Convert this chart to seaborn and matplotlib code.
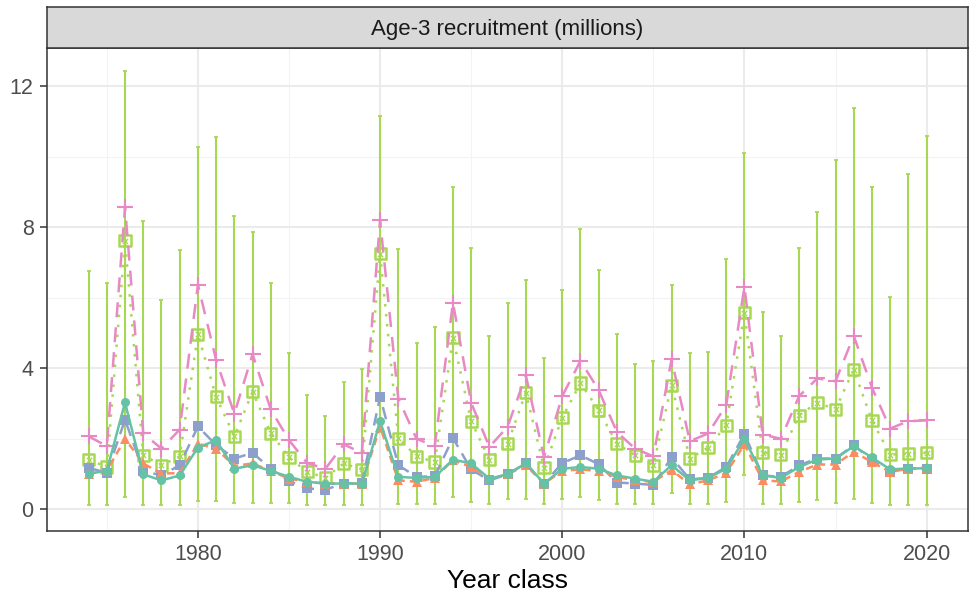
import matplotlib
matplotlib.use("Agg")
import matplotlib.pyplot as plt
import seaborn as sns
import numpy as np
import pandas as pd

years = list(range(1974, 2021))

teal = [1.01, 1.09, 3.03, 0.99, 0.82, 0.96, 1.75, 1.96, 1.15, 1.25, 1.09, 0.92, 0.78, 0.73, 0.73, 0.73,
        2.5, 0.92, 0.89, 0.92, 1.41, 1.3, 0.87, 0.99, 1.31, 0.73, 1.15, 1.2, 1.15, 0.96, 0.87, 0.78,
        1.25, 0.82, 0.89, 1.15, 2.0, 0.96, 0.89, 1.2, 1.41, 1.44, 1.79, 1.47, 1.13, 1.16, 1.16]
orange = [1.01, 1.09, 2.0, 1.3, 1.01, 1.03, 1.86, 1.72, 1.23, 1.3, 1.09, 0.87, 0.78, 0.73, 0.73, 0.73,
          2.34, 0.82, 0.78, 0.89, 1.39, 1.2, 0.87, 0.99, 1.25, 0.73, 1.09, 1.13, 1.09, 0.92, 0.82, 0.78,
          1.11, 0.71, 0.82, 1.03, 1.84, 0.82, 0.79, 1.06, 1.27, 1.27, 1.63, 1.34, 1.06, 1.15, 1.18]
blue = [1.18, 1.03, 2.54, 1.09, 0.96, 1.25, 2.35, 1.82, 1.44, 1.6, 1.15, 0.8, 0.59, 0.56, 0.73, 0.75,
        3.19, 1.25, 0.92, 0.94, 2.02, 1.13, 0.82, 0.99, 1.3, 0.73, 1.31, 1.53, 1.28, 0.76, 0.73, 0.69,
        1.47, 0.85, 0.89, 1.2, 2.13, 0.96, 0.92, 1.25, 1.44, 1.44, 1.82, 1.39, 1.06, 1.15, 1.15]
green = [1.41, 1.2, 7.61, 1.53, 1.25, 1.5, 4.96, 3.19, 2.07, 3.33, 2.16, 1.47, 1.06, 0.9, 1.3, 1.13,
         7.25, 2.02, 1.5, 1.34, 4.87, 2.5, 1.41, 1.86, 3.31, 1.18, 2.6, 3.58, 2.81, 1.86, 1.53, 1.25,
         3.52, 1.44, 1.75, 2.38, 5.57, 1.61, 1.55, 2.67, 3.02, 2.84, 3.96, 2.52, 1.55, 1.58, 1.6]
pink = [2.07, 1.79, 8.58, 2.15, 1.72, 2.26, 6.37, 4.23, 2.71, 4.4, 2.83, 1.96, 1.31, 1.15, 1.84, 1.6,
        8.2, 3.14, 2.0, 1.79, 5.86, 3.02, 1.77, 2.34, 3.8, 1.48, 3.21, 4.21, 3.38, 2.19, 1.72, 1.5,
        4.25, 1.93, 2.15, 2.95, 6.31, 2.12, 2.0, 3.21, 3.71, 3.63, 4.92, 3.45, 2.29, 2.5, 2.52]
green_upper = [6.76, 6.42, 12.43, 8.17, 5.93, 7.35, 10.28, 10.56, 8.32, 7.85, 6.43, 4.42, 3.23, 2.64, 3.61, 3.97,
               11.16, 7.39, 4.72, 5.17, 9.13, 7.42, 4.91, 5.86, 6.5, 4.3, 6.23, 7.94, 6.78, 4.96, 4.13, 4.2,
               6.37, 4.44, 4.46, 7.09, 10.11, 5.58, 4.92, 7.41, 8.42, 9.9, 11.39, 9.13, 6.02, 9.52, 10.58]
green_lower = [0.11, 0.11, 0.35, 0.13, 0.11, 0.13, 0.23, 0.23, 0.17, 0.18, 0.17, 0.17, 0.11, 0.11, 0.11, 0.11,
               2.2, 0.16, 0.15, 0.16, 0.35, 0.2, 0.16, 0.3, 0.3, 0.16, 0.3, 0.35, 0.25, 0.16, 0.16, 0.16,
               0.47, 0.16, 0.16, 0.2, 0.96, 0.16, 0.16, 0.2, 0.25, 0.18, 0.28, 0.17, 0.11, 0.11, 0.11]

x_ticks = [1980, 1990, 2000, 2010, 2020]
y_ticks = [0, 4, 8, 12]
strip_title = "Age-3 recruitment (millions)"
x_label = "Year class"

df = pd.DataFrame({"year": years, "teal": teal, "orange": orange, "blue": blue,
                   "green": green, "pink": pink, "lo": green_lower, "hi": green_upper})

sns.set_theme(style="white")
plt.rcParams['font.family'] = ['Liberation Sans', 'DejaVu Sans']

W, H = 969, 599
fig = plt.figure(figsize=(W / 100, H / 100), dpi=100)
L, R, T, B = 46.7, 968.5, 48.3, 531.0
ax = fig.add_axes([L / W, 1 - B / H, (R - L) / W, (B - T) / H])

c_teal, c_orange, c_blue, c_pink, c_green = "#66C2A5", "#FC8D62", "#8DA0CB", "#E78AC3", "#A6D854"

# grid
for v in [2, 6, 10]:
    ax.axhline(v, color="#F3F3F3", lw=0.8, zorder=0)
for v in [1975, 1985, 1995, 2005, 2015]:
    ax.axvline(v, color="#F3F3F3", lw=0.8, zorder=0)
for v in y_ticks:
    ax.axhline(v, color="#EBEBEB", lw=1.5, zorder=0)
for v in x_ticks:
    ax.axvline(v, color="#EBEBEB", lw=1.5, zorder=0)

# error bars
ax.errorbar(df["year"], df["green"],
            yerr=[df["green"] - df["lo"], df["hi"] - df["green"]],
            fmt="none", ecolor=c_green, elinewidth=1.5, capsize=1.5, capthick=1.3, zorder=2)

# green dotted with boxed cross
sns.lineplot(data=df, x="year", y="green", ax=ax, color=c_green, lw=1.8,
             linestyle=(0, (1, 3)), zorder=3)
ax.scatter(df["year"], df["green"], marker="s", s=64, facecolors="none",
           edgecolors=c_green, linewidths=1.8, zorder=4)
ax.scatter(df["year"], df["green"], marker="x", s=14, color=c_green, linewidths=1.0, zorder=4)

# pink long-dash with plus
sns.lineplot(data=df, x="year", y="pink", ax=ax, color=c_pink, lw=1.8,
             linestyle=(0, (6, 4)), marker="+", markersize=12, markeredgewidth=1.5,
             markeredgecolor=c_pink, zorder=5)

# blue dashed with squares
sns.lineplot(data=df, x="year", y="blue", ax=ax, color=c_blue, lw=1.8,
             linestyle=(0, (5, 3)), marker="s", markersize=7, markeredgewidth=0,
             zorder=6)

# orange short-dashed with triangles
sns.lineplot(data=df, x="year", y="orange", ax=ax, color=c_orange, lw=1.8,
             linestyle=(0, (3, 2)), marker="^", markersize=7, markeredgewidth=0,
             zorder=7)

# teal solid with circles
sns.lineplot(data=df, x="year", y="teal", ax=ax, color=c_teal, lw=1.8,
             linestyle="-", marker="o", markersize=6.5, markeredgewidth=0, zorder=8)

ax.set_xlim(1971.7, 2022.3)
ax.set_ylim(-0.615, 13.07)
ax.set_xticks(x_ticks)
ax.set_yticks(y_ticks)
ax.set_xticklabels([str(t) for t in x_ticks])
ax.set_yticklabels([str(t) for t in y_ticks])
ax.tick_params(axis="both", which="major", length=5, width=1.1, color="#333333",
               labelcolor="#4D4D4D", labelsize=15.5, direction="out", pad=4.5)
ax.tick_params(axis="x", bottom=True)
ax.tick_params(axis="y", left=True)
ax.set_xlabel(x_label, fontsize=19, color="black", labelpad=3)
ax.set_ylabel("")
for s in ax.spines.values():
    s.set_color("#333333")
    s.set_linewidth(1.1)

# facet strip
sax = fig.add_axes([L / W, 1 - T / H, (R - L) / W, (T - 7.3) / H])
sax.set_xticks([]); sax.set_yticks([])
sax.set_facecolor("#D9D9D9")
for s in sax.spines.values():
    s.set_color("#333333")
    s.set_linewidth(1.1)
sax.text(0.5, 0.47, strip_title, ha="center", va="center", fontsize=16,
         color="#1A1A1A", transform=sax.transAxes)

fig.savefig("out.png", dpi=100)
